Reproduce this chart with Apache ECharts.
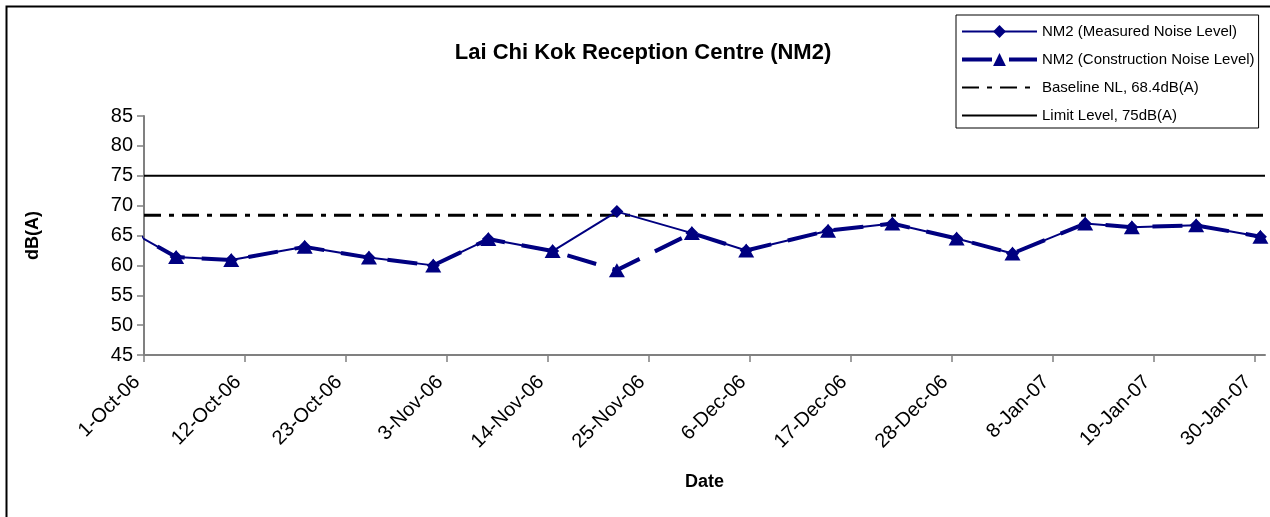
<!DOCTYPE html>
<html>
<head>
<meta charset="utf-8">
<script src="https://cdn.jsdelivr.net/npm/echarts@6/dist/echarts.min.js"></script>
<style>
html,body{margin:0;padding:0;background:#fff;}
#chart{width:1270px;height:517px;}
</style>
</head>
<body>
<div id="chart"></div>
<script>
// ---- data ----
var dates = ['2006-09-28 00', '2006-10-04 12', '2006-10-10 12', '2006-10-18 12', '2006-10-25 12',
             '2006-11-01 12', '2006-11-07 12', '2006-11-14 12', '2006-11-21 12', '2006-11-29 16',
             '2006-12-05 14', '2006-12-14 12', '2006-12-21 12', '2006-12-28 12', '2007-01-03 14',
             '2007-01-11 12', '2007-01-16 14', '2007-01-23 14', '2007-01-30 14'];
var measured     = [67.0, 61.4, 60.9, 63.1, 61.3, 60.0, 64.4, 62.4, 69.0, 65.4, 62.5, 65.8, 67.0, 64.5, 62.0, 67.0, 66.4, 66.7, 64.8];
var construction = [67.0, 61.4, 60.9, 63.1, 61.3, 60.0, 64.4, 62.4, 59.2, 65.4, 62.5, 65.8, 67.0, 64.5, 62.0, 67.0, 66.4, 66.7, 64.8];
var baselineLevel = 68.4;
var limitLevel = 75;
var tickLabels = ['1-Oct-06', '12-Oct-06', '23-Oct-06', '3-Nov-06', '14-Nov-06', '25-Nov-06',
                  '6-Dec-06', '17-Dec-06', '28-Dec-06', '8-Jan-07', '19-Jan-07', '30-Jan-07'];
var xStart = '2006-10-01 00';
var xEnd = '2007-01-31 02';
var yTicks = {min: 45, max: 85, step: 5};

// ---- helpers ----
var MONTHS = ['Jan','Feb','Mar','Apr','May','Jun','Jul','Aug','Sep','Oct','Nov','Dec'];
function ts(s) {
  var p = s.split(/[- ]/);
  return Date.UTC(+p[0], +p[1] - 1, +p[2], +(p[3] || 0));
}
function labelTs(l) {
  var p = l.split('-');
  return Date.UTC(2000 + +p[2], MONTHS.indexOf(p[1]), +p[0]);
}
var tickValues = tickLabels.map(labelTs);
var labelMap = {};
tickLabels.forEach(function (l, i) { labelMap[tickValues[i]] = l; });
var xMin = ts(xStart), xMax = ts(xEnd);

var navy = '#000080';
var font = '"Liberation Sans", Arial, sans-serif';
var clear = 'rgba(0,0,0,0)';

var chart = echarts.init(document.getElementById('chart'));
chart.setOption({
  animation: false,
  backgroundColor: '#fff',
  textStyle: {fontFamily: font},
  title: {
    text: 'Lai Chi Kok Reception Centre (NM2)',
    left: 638, top: 37, textAlign: 'center',
    textStyle: {fontFamily: font, fontSize: 22, fontWeight: 'bold', color: '#000'}
  },
  graphic: [{
    type: 'rect', left: 4, top: 4, silent: true,
    shape: {width: 1300, height: 600},
    style: {fill: 'none', stroke: '#000', lineWidth: 2}
  }],
  legend: {
    orient: 'vertical', left: 956, top: 15,
    padding: [9, 4, 5, 4], itemGap: 13, itemWidth: 75, itemHeight: 16,
    borderColor: '#000', borderWidth: 1, backgroundColor: '#fff',
    textStyle: {fontFamily: font, fontSize: 15, color: '#000'},
    data: [
      {name: 'NM2 (Measured Noise Level)'},
      {name: 'NM2 (Construction Noise Level)', lineStyle: {width: 4}},
      {name: 'Baseline NL, 68.4dB(A)'},
      {name: 'Limit Level, 75dB(A)'}
    ]
  },
  grid: {left: 144, right: 5, top: 116, bottom: 162},
  xAxis: {
    type: 'value', min: xMin, max: xMax,
    name: 'Date', nameLocation: 'middle', nameGap: 118,
    nameTextStyle: {fontFamily: font, fontSize: 18, fontWeight: 'bold', color: '#000'},
    axisLine: {lineStyle: {color: '#808080', width: 2}},
    axisTick: {show: true, length: 7, customValues: tickValues, lineStyle: {color: '#808080', width: 1.5}},
    axisLabel: {
      customValues: tickValues, rotate: 45, margin: 31, verticalAlign: 'bottom',
      fontFamily: font, fontSize: 20, color: '#000',
      formatter: function (v) { return labelMap[v] || ''; }
    },
    splitLine: {show: false}
  },
  yAxis: {
    type: 'value', min: yTicks.min, max: yTicks.max, interval: yTicks.step,
    name: 'dB(A)', nameLocation: 'middle', nameGap: 102, nameRotate: 90,
    nameTextStyle: {fontFamily: font, fontSize: 18, fontWeight: 'bold', color: '#000'},
    axisLine: {show: true, lineStyle: {color: '#808080', width: 2}},
    axisTick: {show: true, length: 7, lineStyle: {color: '#808080', width: 1.5}},
    axisLabel: {margin: 11, fontFamily: font, fontSize: 20, color: '#000'},
    splitLine: {show: false}
  },
  series: [
    {
      name: 'NM2 (Measured Noise Level)', type: 'line',
      data: dates.map(function (d, i) { return [ts(d), measured[i]]; }),
      symbol: 'diamond', symbolSize: 13, showAllSymbol: true,
      lineStyle: {color: navy, width: 2},
      itemStyle: {color: navy},
      z: 3
    },
    {
      name: 'NM2 (Construction Noise Level)', type: 'line',
      data: dates.map(function (d, i) { return [ts(d), construction[i]]; }),
      symbol: 'triangle', symbolSize: [16, 14], showAllSymbol: true,
      lineStyle: {color: navy, width: 4, type: [30, 17]},
      itemStyle: {color: navy},
      z: 4
    },
    {
      name: 'Baseline NL, 68.4dB(A)', type: 'line',
      data: [[xMin, baselineLevel], [xMax, baselineLevel]],
      symbol: 'none',
      lineStyle: {color: '#000', width: 3, type: [17, 8, 5, 8]},
      itemStyle: {color: clear, borderColor: clear},
      z: 2
    },
    {
      name: 'Limit Level, 75dB(A)', type: 'line',
      data: [[xMin, limitLevel], [xMax, limitLevel]],
      symbol: 'none',
      lineStyle: {color: '#000', width: 2},
      itemStyle: {color: clear, borderColor: clear},
      z: 2
    }
  ]
});
</script>
</body>
</html>
